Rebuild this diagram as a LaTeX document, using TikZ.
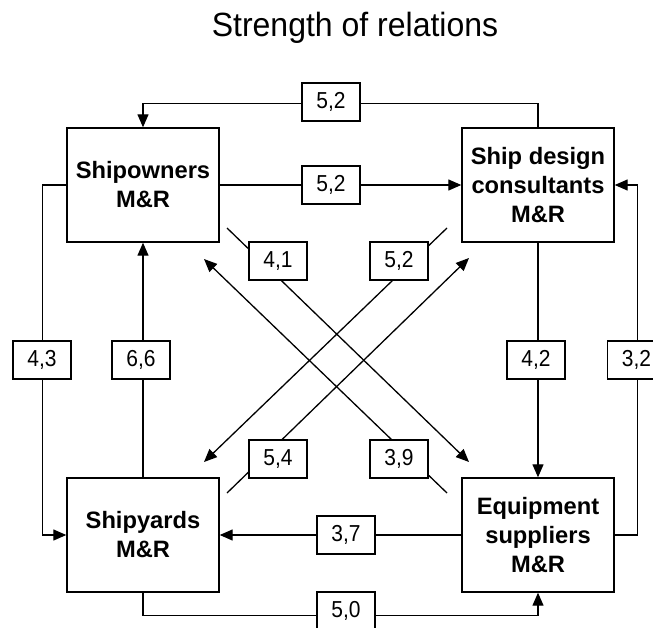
\documentclass[tikz,border=0pt]{standalone}
\usepackage{fontspec}
\setmainfont{Liberation Sans}
\usetikzlibrary{arrows.meta}
\newcommand{\tallnum}[1]{\scalebox{1}[1.1]{#1}}
\begin{document}
\begin{tikzpicture}[x=1pt,y=-1pt,
  every path/.style={line width=1.3pt},
  actor/.style={draw, line width=1.4pt, minimum width=152pt, minimum height=114pt, inner sep=0pt, align=center, font=\fontsize{23.7}{29}\selectfont\bfseries},
  val/.style={draw, fill=white, line width=1.3pt, minimum width=58pt, minimum height=38pt, inner sep=0pt, font=\fontsize{21}{24}\selectfont},
  arr/.style={-{Triangle[length=13pt,width=11pt]}}
]
\useasboundingbox (0,0) rectangle (653,627);
\node[anchor=base, font=\fontsize{32}{36}\selectfont] (title) at (355,36) {\scalebox{1}[1.05]{Strength of relations}};
\node[actor] (so) at (143,185) {Shipowners\\M\&R};
\node[actor] (sd) at (538,185) {Ship design\\consultants\\M\&R};
\node[actor] (sy) at (143,535) {Shipyards\\M\&R};
\node[actor] (eq) at (538,535) {Equipment\\suppliers\\M\&R};
% diagonal endpoints
\coordinate (d1s) at (227,228); \coordinate (d1e) at (469,462);
\coordinate (d2s) at (447,493); \coordinate (d2e) at (204,259);
\coordinate (d3s) at (447,228); \coordinate (d3e) at (204,462);
\coordinate (d4s) at (227,493); \coordinate (d4e) at (469,258);
% connectors
\draw[arr] (sd.north) -- ++(0,-24) -| (so.north);
\draw[arr] (so.east) -- (sd.west);
\draw[arr] (so.west) -- ++(-24,0) |- (sy.west);
\draw[arr] (sy.north) -- (so.south);
\draw[arr] (sd.south) -- (eq.north);
\draw[arr] (eq.east) -- ++(23,0) |- (sd.east);
\draw[arr] (eq.west) -- (sy.east);
\draw[arr] (sy.south) -- ++(0,23) -| (eq.south);
\draw[arr] (d1s) -- (d1e);
\draw[arr] (d2s) -- (d2e);
\draw[arr] (d3s) -- (d3e);
\draw[arr] (d4s) -- (d4e);
% values
\node[val] (v1) at (331,102) {\tallnum{5,2}};
\node[val] (v2) at (331,185) {\tallnum{5,2}};
\node[val] (v3) at (42,360) {\tallnum{4,3}};
\node[val] (v4) at (141,360) {\tallnum{6,6}};
\node[val] (v5) at (536,360) {\tallnum{4,2}};
\node[val] (v6) at (636.5,360) {\tallnum{3,2}};
\node[val] (v7) at (346,535) {\tallnum{3,7}};
\node[val] (v8) at (346,611) {\tallnum{5,0}};
\node[val] (v9) at (278,261) {\tallnum{4,1}};
\node[val] (v10) at (399,261) {\tallnum{5,2}};
\node[val] (v11) at (278,459) {\tallnum{5,4}};
\node[val] (v12) at (399,459) {\tallnum{3,9}};
\end{tikzpicture}
\end{document}
